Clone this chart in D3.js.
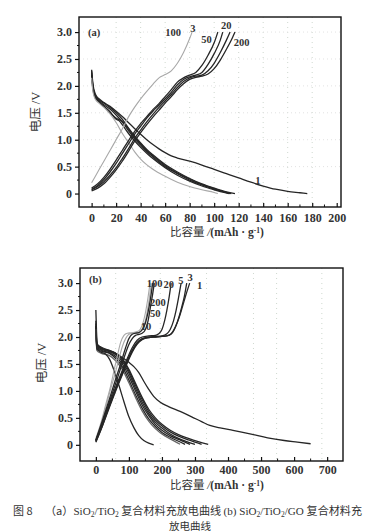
<!DOCTYPE html>
<html><head><meta charset="utf-8">
<script src="https://cdn.jsdelivr.net/npm/d3@7/dist/d3.min.js"></script>
<style>
body{margin:0;background:#fff;}
svg{display:block;}
</style></head>
<body>
<script>
// ---------- Panel (a): SiO2/TiO2 ----------
const aXTicks = [0,20,40,60,80,100,120,140,160,180,200];
const aYTicks = [0,0.5,1.0,1.5,2.0,2.5,3.0];
const aDis1 = [[0,2.3],[1,2.05],[3,1.85],[6,1.76],[10,1.69],[15,1.62],[20,1.53],[25,1.43],[30,1.32],[35,1.21],[40,1.1],[45,1.0],[50,0.91],[55,0.83],[60,0.76],[65,0.7],[70,0.66],[80,0.6],[90,0.53],[100,0.45],[110,0.37],[120,0.29],[130,0.21],[140,0.14],[150,0.08],[160,0.04],[170,0.015],[176,0]];
const aDis20 = [[0,2.25],[1,2.0],[3,1.83],[6,1.74],[10,1.68],[15,1.6],[20,1.5],[25,1.38],[30,1.22],[35,1.07],[40,0.94],[45,0.82],[50,0.72],[60,0.54],[70,0.4],[80,0.28],[90,0.18],[100,0.1],[110,0.03],[117,0]];
const aDis50 = [[0,2.2],[1,1.98],[3,1.8],[6,1.72],[10,1.65],[15,1.57],[20,1.46],[25,1.33],[30,1.17],[35,1.02],[40,0.9],[45,0.78],[50,0.68],[60,0.5],[70,0.37],[80,0.25],[90,0.16],[100,0.08],[110,0.02],[114,0]];
const aDis100 = [[0,2.2],[1,1.95],[3,1.78],[6,1.7],[10,1.62],[15,1.52],[20,1.38],[22,1.36],[25,1.28],[30,1.12],[35,0.98],[40,0.86],[45,0.75],[50,0.65],[60,0.48],[70,0.34],[80,0.23],[90,0.14],[100,0.07],[108,0.02],[112,0]];
const aDis200 = [[0,2.28],[1,2.0],[3,1.8],[6,1.7],[10,1.62],[15,1.5],[20,1.4],[25,1.34],[30,1.2],[35,1.05],[40,0.92],[45,0.8],[50,0.7],[60,0.52],[70,0.38],[80,0.27],[90,0.17],[100,0.09],[108,0.03],[113,0]];
const aDis3 = [[0,2.15],[1,1.9],[3,1.75],[6,1.68],[10,1.6],[15,1.48],[20,1.32],[25,1.12],[30,0.95],[35,0.78],[40,0.64],[50,0.45],[60,0.32],[70,0.21],[80,0.13],[90,0.07],[100,0.02],[103,0]];
const aCh3 = [[0,0.2],[5,0.4],[10,0.6],[15,0.8],[20,1.0],[25,1.2],[30,1.42],[35,1.6],[40,1.76],[45,1.9],[50,2.03],[55,2.15],[60,2.21],[65,2.28],[70,2.42],[75,2.62],[80,2.88],[82,3.0]];
const aCh50 = [[0,0.1],[5,0.18],[10,0.3],[15,0.45],[20,0.62],[25,0.8],[30,0.98],[35,1.15],[40,1.3],[45,1.43],[50,1.56],[55,1.67],[60,1.8],[65,1.93],[70,2.07],[75,2.15],[80,2.2],[85,2.25],[90,2.38],[95,2.57],[100,2.8],[103,3.0]];
const aCh20 = [[0,0.08],[5,0.15],[10,0.26],[15,0.4],[20,0.56],[25,0.74],[30,0.92],[35,1.1],[40,1.25],[45,1.4],[50,1.53],[55,1.64],[60,1.76],[65,1.88],[70,2.02],[75,2.12],[80,2.17],[85,2.2],[90,2.25],[95,2.4],[100,2.6],[105,2.85],[107,3.0]];
const aCh100 = [[0,0.07],[5,0.13],[10,0.22],[15,0.34],[20,0.48],[25,0.65],[30,0.83],[35,1.02],[40,1.18],[45,1.33],[50,1.47],[55,1.6],[60,1.72],[65,1.84],[70,1.97],[75,2.08],[80,2.15],[85,2.18],[90,2.2],[95,2.28],[100,2.42],[105,2.62],[110,2.85],[113,3.0]];
const aCh200 = [[0,0.05],[5,0.1],[10,0.18],[15,0.3],[20,0.44],[25,0.6],[30,0.78],[35,0.97],[40,1.13],[45,1.28],[50,1.42],[55,1.55],[60,1.68],[65,1.8],[70,1.93],[75,2.04],[80,2.12],[85,2.16],[90,2.18],[95,2.22],[100,2.32],[105,2.48],[110,2.68],[115,2.9],[117,3.0]];
const aLabels = [["(a)",-3,2.93],["100",60,2.92],["3",80.5,3.01],["50",89.5,2.79],["20",105.5,3.05],["200",116,2.74],["1",133.5,0.17]];

// ---------- Panel (b): SiO2/TiO2/GO ----------
const bXTicks = [0,100,200,300,400,500,600,700];
const bYTicks = [0,0.5,1.0,1.5,2.0,2.5,3.0];
const bGridX = [60,195,335,477,547,684];
const bDis1 = [[0,2.5],[2,2.1],[5,1.86],[20,1.8],[50,1.73],[80,1.62],[100,1.53],[115,1.45],[130,1.34],[145,1.18],[160,1.03],[175,0.9],[195,0.79],[220,0.71],[255,0.62],[290,0.52],[320,0.43],[345,0.36],[380,0.31],[415,0.27],[470,0.2],[520,0.13],[570,0.08],[610,0.05],[650,0.02]];
const bDis2 = [[0,2.3],[3,1.88],[15,1.8],[40,1.75],[60,1.7],[80,1.6],[100,1.4],[120,1.14],[140,0.88],[160,0.66],[180,0.5],[200,0.38],[225,0.27],[250,0.19],[280,0.12],[310,0.06],[340,0.01]];
const bDis3 = [[0,2.25],[3,1.86],[15,1.79],[40,1.74],[60,1.69],[80,1.58],[100,1.37],[120,1.1],[140,0.84],[160,0.62],[180,0.46],[200,0.35],[225,0.24],[250,0.16],[280,0.09],[300,0.05],[320,0.01]];
const bDis5 = [[0,2.2],[3,1.84],[15,1.78],[40,1.73],[60,1.67],[80,1.55],[100,1.33],[120,1.05],[140,0.79],[160,0.58],[180,0.42],[200,0.31],[225,0.2],[250,0.12],[275,0.06],[300,0.01]];
const bDis10 = [[0,2.2],[3,1.82],[15,1.76],[40,1.71],[60,1.64],[80,1.5],[100,1.27],[120,1.0],[140,0.74],[160,0.54],[180,0.38],[200,0.27],[225,0.17],[250,0.1],[270,0.05],[285,0.01]];
const bDis20 = [[0,2.2],[3,1.8],[15,1.74],[40,1.7],[60,1.6],[80,1.45],[100,1.2],[120,0.93],[140,0.68],[160,0.48],[180,0.34],[200,0.23],[225,0.14],[245,0.08],[270,0.01]];
const bDis50 = [[0,2.15],[3,1.75],[15,1.7],[40,1.66],[60,1.56],[80,1.4],[100,1.15],[120,0.88],[140,0.63],[160,0.44],[180,0.3],[200,0.2],[225,0.11],[255,0.01]];
const bDis100 = [[0,2.2],[3,1.78],[15,1.72],[30,1.68],[42,1.58],[55,1.38],[70,1.1],[85,0.8],[100,0.52],[115,0.32],[130,0.17],[145,0.08],[160,0.03],[175,0]];
const bCh100 = [[0,0.12],[15,0.4],[30,0.75],[45,1.1],[55,1.38],[65,1.65],[75,1.9],[85,2.03],[95,2.07],[110,2.08],[125,2.1],[135,2.15],[143,2.27],[150,2.45],[157,2.7],[164,3.0]];
const bCh50 = [[0,0.1],[15,0.36],[30,0.7],[45,1.04],[60,1.36],[70,1.6],[80,1.82],[90,1.97],[100,2.05],[110,2.07],[125,2.08],[135,2.11],[145,2.2],[152,2.36],[159,2.6],[168,3.0]];
const bCh200 = [[0,0.09],[20,0.45],[40,0.83],[60,1.22],[75,1.5],[90,1.8],[100,1.97],[110,2.05],[120,2.07],[130,2.08],[140,2.13],[150,2.26],[158,2.46],[165,2.7],[172,3.0]];
const bCh10 = [[0,0.08],[20,0.42],[40,0.78],[60,1.14],[75,1.42],[90,1.7],[100,1.86],[110,1.97],[120,2.03],[130,2.05],[140,2.07],[150,2.14],[158,2.3],[165,2.55],[172,2.8],[177,3.0]];
const bCh20 = [[0,0.08],[20,0.4],[40,0.74],[60,1.07],[80,1.38],[95,1.6],[110,1.8],[125,1.94],[140,2.0],[160,2.02],[180,2.03],[190,2.06],[200,2.14],[208,2.3],[215,2.5],[222,2.75],[228,3.0]];
const bCh5 = [[0,0.07],[20,0.38],[40,0.72],[60,1.04],[80,1.34],[95,1.56],[110,1.76],[125,1.9],[140,1.97],[160,2.0],[180,2.01],[200,2.02],[215,2.06],[225,2.14],[235,2.3],[243,2.5],[250,2.72],[258,3.0]];
const bCh3 = [[0,0.06],[20,0.36],[40,0.7],[60,1.02],[80,1.32],[95,1.54],[110,1.74],[125,1.88],[140,1.96],[160,1.99],[180,2.0],[200,2.01],[220,2.03],[232,2.08],[242,2.2],[252,2.38],[260,2.56],[268,2.76],[275,3.0]];
const bCh1 = [[0,0.05],[20,0.35],[40,0.68],[60,1.0],[80,1.3],[95,1.52],[110,1.72],[125,1.87],[140,1.95],[160,1.99],[180,2.0],[200,2.01],[215,2.02],[228,2.06],[240,2.18],[252,2.36],[262,2.56],[272,2.77],[284,3.0]];
const bLabels = [["(b)",-21,3.0],["100",154,2.93],["20",205,2.9],["5",249,2.98],["3",277,3.04],["1",306,2.89],["200",164,2.57],["50",164,2.37],["10",136,2.13]];

const SERIF = "Liberation Serif";
const CJK = "Noto Sans CJK SC";
const DARK = "#262626", GRAY = "#a8a8a8";
const aSeries = [
  {d:aDis1,c:DARK},{d:aDis20,c:DARK},{d:aDis50,c:DARK},{d:aDis100,c:DARK},{d:aDis200,c:DARK},{d:aDis3,c:GRAY},
  {d:aCh3,c:GRAY},{d:aCh50,c:DARK},{d:aCh20,c:DARK},{d:aCh100,c:DARK},{d:aCh200,c:DARK}
];
const bSeries = [
  {d:bDis1,c:DARK},{d:bDis2,c:DARK},{d:bDis3,c:DARK},{d:bDis5,c:DARK},{d:bDis10,c:DARK},{d:bDis20,c:DARK},{d:bDis50,c:"#666"},{d:bDis100,c:DARK},
  {d:bCh100,c:GRAY},{d:bCh50,c:GRAY},{d:bCh200,c:DARK},{d:bCh10,c:DARK},{d:bCh20,c:DARK},{d:bCh5,c:DARK},{d:bCh3,c:DARK},{d:bCh1,c:DARK}
];

const svg = d3.select("body").append("svg").attr("width",381).attr("height",532);
svg.append("rect").attr("width",381).attr("height",532).attr("fill","#fff");

function panel(o){
  const x = d3.scaleLinear().domain(o.xd).range([o.l,o.r]);
  const y = d3.scaleLinear().domain(o.yd).range([o.b,o.t]);
  const g = svg.append("g");
  (o.gridX||[]).forEach(v=>{
    g.append("line").attr("x1",x(v)).attr("x2",x(v)).attr("y1",o.t).attr("y2",o.b)
      .attr("stroke","#cfd8cf").attr("stroke-width",1).attr("stroke-dasharray","1,4");
  });
  (o.gridY||[]).forEach(v=>{
    g.append("line").attr("x1",o.l).attr("x2",o.r).attr("y1",y(v)).attr("y2",y(v))
      .attr("stroke","#e2e2e2").attr("stroke-width",1).attr("stroke-dasharray","1,3");
  });
  const line = d3.line().x(d=>x(d[0])).y(d=>y(d[1])).curve(d3.curveMonotoneX);
  o.series.forEach(s=>{
    g.append("path").attr("d",line(s.d)).attr("fill","none").attr("stroke",s.c)
      .attr("stroke-width",s.c===GRAY?1.1:1.3).attr("stroke-linejoin","round");
  });
  g.append("rect").attr("x",o.l).attr("y",o.t).attr("width",o.r-o.l).attr("height",o.b-o.t)
    .attr("fill","none").attr("stroke","#111").attr("stroke-width",1.4);
  const yAx = g.append("g").attr("transform",`translate(${o.l},0)`)
    .call(d3.axisLeft(y).tickValues(o.yt).tickSize(4).tickPadding(3).tickFormat(d=>d===0?"0":d3.format(".1f")(d)));
  yAx.attr("font-family",SERIF).attr("font-size",12);
  yAx.select(".domain").remove();
  yAx.selectAll("text").attr("font-family",SERIF).attr("font-size",12).attr("font-weight","bold").attr("fill","#333");
  yAx.selectAll("line").attr("stroke","#111").attr("stroke-width",1.2);
  const yMinor = d3.range(o.yt[0]+o.ym, o.yt[o.yt.length-1], o.ym*2);
  yMinor.forEach(v=>g.append("line").attr("x1",o.l-2).attr("x2",o.l).attr("y1",y(v)).attr("y2",y(v)).attr("stroke","#111"));
  const xAx = g.append("g").attr("transform",`translate(0,${o.b})`)
    .call(d3.axisBottom(x).tickValues(o.xt).tickSize(-4).tickPadding(o.xpad).tickFormat(d3.format("d")));
  xAx.attr("font-family",SERIF).attr("font-size",12);
  xAx.select(".domain").remove();
  xAx.selectAll("text").attr("font-family",SERIF).attr("font-size",12).attr("font-weight","bold").attr("fill","#333");
  xAx.selectAll("line").attr("stroke","#111").attr("stroke-width",1.2);
  for(let i=0;i<o.xt.length-1;i++){
    const v=(o.xt[i]+o.xt[i+1])/2;
    g.append("line").attr("x1",x(v)).attr("x2",x(v)).attr("y1",o.b).attr("y2",o.b-2.5).attr("stroke","#111");
  }
  o.labels.forEach(L=>{
    g.append("text").attr("font-family",SERIF).attr("font-size",10.5).attr("font-weight","bold").attr("fill","#333")
      .attr("x",x(L[1])).attr("y",y(L[2])).text(L[0]);
  });
  const yl = g.append("text").attr("transform",`translate(${o.ylx},${o.yly}) rotate(-90)`)
    .attr("text-anchor","middle").attr("font-size",12.5).attr("fill","#333");
  yl.append("tspan").attr("font-family",CJK).text("电压 ");
  yl.append("tspan").attr("font-family",SERIF).text("/V");
  const xl = g.append("text").attr("x",o.xlx).attr("y",o.xly).attr("text-anchor","middle").attr("font-size",11.5).attr("fill","#333");
  xl.append("tspan").attr("font-family",CJK).text("比容量 ");
  xl.append("tspan").attr("font-family",SERIF).attr("font-style","italic").text("/");
  xl.append("tspan").attr("font-family",SERIF).attr("font-weight","bold").text("(mAh · g");
  xl.append("tspan").attr("font-family",SERIF).attr("font-weight","bold").attr("font-size",7.5).attr("dy",-3).text("-1");
  xl.append("tspan").attr("font-family",SERIF).attr("font-weight","bold").attr("dy",3).text(")");
}

panel({xd:[-10.3,203.5], yd:[-0.25,3.28], l:79, r:341, t:17, b:207,
  xt:aXTicks, yt:aYTicks, ym:0.25, series:aSeries, labels:aLabels, xpad:6,
  gridX:aXTicks.slice(1,-1), gridY:aYTicks.slice(1),
  ylx:40, yly:112, xlx:217, xly:236});

panel({xd:[-48,748], yd:[-0.3,3.28], l:80, r:343, t:268, b:461,
  xt:bXTicks, yt:bYTicks, ym:0.25, series:bSeries, labels:bLabels, xpad:4,
  gridX:bGridX, gridY:[],
  ylx:46, yly:363, xlx:217, xly:489});

// caption
svg.append("text").attr("x",13).attr("y",515).attr("font-size",11).attr("fill","#333")
  .attr("font-family",CJK).text("图 8");
const c2 = svg.append("text").attr("x",45).attr("y",515).attr("font-size",11).attr("fill","#333")
  .attr("textLength",317).attr("lengthAdjust","spacingAndGlyphs");
function ts(font,txt,opt){const t=c2.append("tspan").attr("font-family",font).text(txt);
  if(opt){if(opt.sub){t.attr("font-size",7.5).attr("dy",1.5);} if(opt.up){t.attr("dy",-1.5);}} return t;}
ts(CJK,"（a）");
ts(SERIF,"SiO"); ts(SERIF,"2",{sub:1}); ts(SERIF,"/TiO",{up:1}); ts(SERIF,"2",{sub:1});
ts(CJK," 复合材料充放电曲线 ",{up:1});
ts(SERIF,"(b) SiO"); ts(SERIF,"2",{sub:1}); ts(SERIF,"/TiO",{up:1}); ts(SERIF,"2",{sub:1});
ts(SERIF,"/GO ",{up:1});
ts(CJK,"复合材料充");
svg.append("text").attr("x",190).attr("y",530).attr("text-anchor","middle").attr("font-size",10.5).attr("fill","#333")
  .attr("font-family",CJK).text("放电曲线");
</script>
</body></html>
